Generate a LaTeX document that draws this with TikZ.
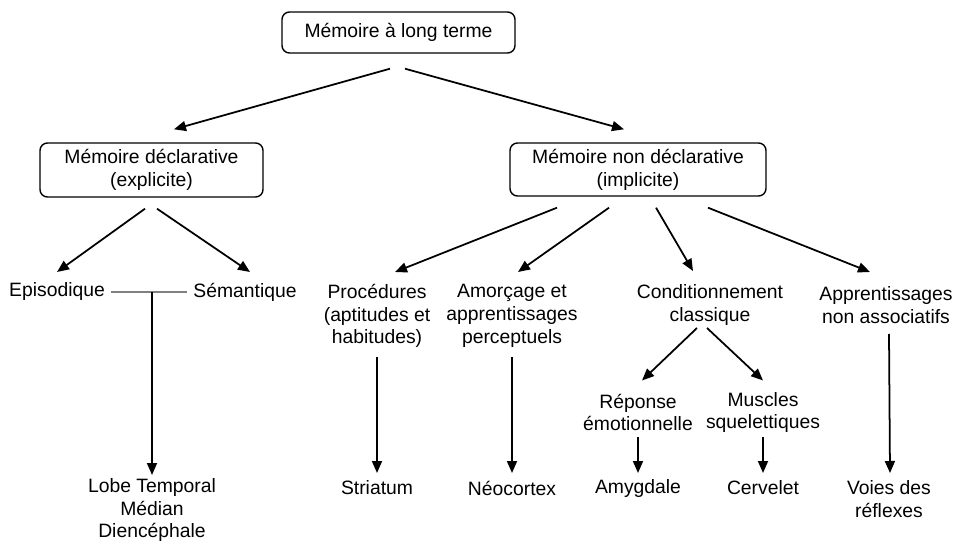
\documentclass[tikz,border=0pt]{standalone}
\usepackage{fontspec}
\setmainfont{Liberation Sans}
\usetikzlibrary{calc,arrows.meta}

\begin{document}
\begin{tikzpicture}[
    box/.style={draw, line width=0.8pt, rounded corners=0.15cm, align=center, font=\fontsize{11}{13}\selectfont},
    txt/.style={align=center, font=\fontsize{11}{13}\selectfont},
    arr/.style={-{Triangle[length=2.4mm,width=2mm]}, line width=1pt}
  ]
  \useasboundingbox (0,0) rectangle (19.14,10.82);

  \node[box, minimum width=4.66cm, minimum height=0.82cm] (top) at (7.97,10.17) {Mémoire à long terme};
  \node[box, minimum width=4.46cm, minimum height=1.08cm] (decl) at (3.03,7.42) {Mémoire déclarative\\(explicite)};
  \node[box, minimum width=5.12cm, minimum height=1.06cm] (nond) at (12.76,7.43) {Mémoire non déclarative\\(implicite)};

  \node[txt] (epi) at (1.14,4.98) {Episodique};
  \node[txt] (sem) at (4.90,4.98) {Sémantique};
  \coordinate (jn) at (3.04,4.98);
  \node[txt] (lobe) at (3.04,0.62) {Lobe Temporal\\Médian\\Diencéphale};

  \node[txt] (proc) at (7.54,4.50) {Procédures\\(aptitudes et\\habitudes)};
  \node[txt] (amor) at (10.24,4.50) {Amorçage et\\apprentissages\\perceptuels};
  \node[txt] (cond) at (14.20,4.72) {Conditionnement\\classique};
  \node[txt] (appr) at (17.72,4.72) {Apprentissages\\non associatifs};

  \node[txt] (rep) at (12.76,2.57) {Réponse\\émotionnelle};
  \node[txt] (musc) at (15.26,2.57) {Muscles\\squelettiques};

  \node[txt] (stri) at (7.54,1.06) {Striatum};
  \node[txt] (neo) at (10.24,1.06) {Néocortex};
  \node[txt] (amyg) at (12.76,1.06) {Amygdale};
  \node[txt] (cerv) at (15.26,1.06) {Cervelet};
  \node[txt] (voies) at (17.78,0.84) {Voies des\\réflexes};

  \draw[arr] ($(top.south)+(-0.17,-0.30)$) -- ($(decl.north)+(0.45,0.26)$);
  \draw[arr] ($(top.south)+(0.13,-0.30)$) -- ($(nond.north)+(-0.28,0.26)$);

  \draw[arr] ($(decl.south)+(-0.13,-0.22)$) -- ($(epi)+(0,0.40)$);
  \draw[arr] ($(decl.south)+(0.11,-0.22)$) -- ($(sem)+(0.10,0.40)$);
  \draw[gray, line width=0.6pt] (epi.east) -- (sem.west);
  \draw[arr] (jn) -- ($(lobe)+(0,0.70)$);

  \draw[arr] ($(nond.south)+(-1.62,-0.22)$) -- ($(proc)+(0.36,0.88)$);
  \draw[arr] ($(nond.south)+(-0.58,-0.22)$) -- ($(amor)+(0.12,0.88)$);
  \draw[arr] ($(nond.south)+(0.36,-0.22)$) -- ($(cond)+(-0.34,0.68)$);
  \draw[arr] ($(nond.south)+(1.40,-0.22)$) -- ($(appr)+(-0.32,0.66)$);

  \draw[arr] ($(cond)+(-0.26,-0.46)$) -- ($(rep)+(0.08,0.64)$);
  \draw[arr] ($(cond)+(-0.06,-0.46)$) -- ($(musc)+(0,0.64)$);

  \draw[arr] ($(proc)+(0,-0.82)$) -- ($(stri)+(0,0.30)$);
  \draw[arr] ($(amor)+(0,-0.82)$) -- ($(neo)+(0,0.30)$);
  \draw[arr] ($(rep)+(0,-0.49)$) -- ($(amyg)+(0,0.30)$);
  \draw[arr] ($(musc)+(0,-0.49)$) -- ($(cerv)+(0,0.30)$);
  \draw[arr] ($(appr)+(0.06,-0.58)$) -- ($(voies)+(0.02,0.52)$);
\end{tikzpicture}
\end{document}
